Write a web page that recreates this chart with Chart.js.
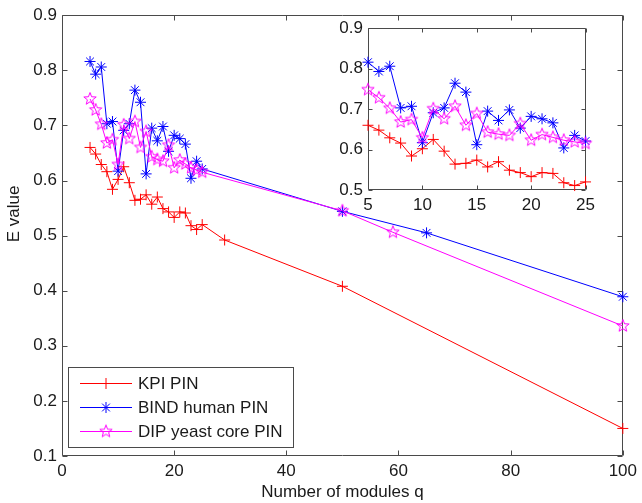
<!DOCTYPE html>
<html><head><meta charset="utf-8">
<script src="https://cdn.jsdelivr.net/npm/chart.js@4/dist/chart.umd.min.js"></script>
<style>
html,body{margin:0;padding:0;background:#fff;}
#wrap{position:relative;width:642px;height:503px;overflow:hidden;background:#fff;}
#main{position:absolute;left:0;top:0;}
#inset{position:absolute;left:325px;top:13px;}
</style></head><body>
<div id="wrap"><canvas id="main" width="642" height="503"></canvas><canvas id="inset" width="275" height="205"></canvas></div>
<script>
// ---------- data ----------
const seriesLabels = ['KPI PIN', 'BIND human PIN', 'DIP yeast core PIN'];
const qKPI  = [5,6,7,8,9,10,11,12,13,14,15,16,17,18,19,20,21,22,23,24,25,29,50,100];
const eKPI  = [0.660,0.648,0.629,0.616,0.584,0.602,0.625,0.596,0.564,0.566,0.574,0.557,0.570,0.549,0.543,0.533,0.543,0.541,0.518,0.511,0.520,0.492,0.408,0.150];
const qBIND = [5,6,7,8,9,10,11,12,13,14,15,16,17,18,19,20,21,22,23,24,25,50,65,100];
const eBIND = [0.816,0.793,0.806,0.703,0.707,0.617,0.691,0.703,0.764,0.742,0.612,0.695,0.672,0.698,0.653,0.682,0.676,0.666,0.604,0.635,0.621,0.544,0.505,0.389];
const qDIP  = [5,6,7,8,9,10,11,12,13,14,15,16,17,18,19,20,21,22,23,24,25,50,59,100];
const eDIP  = [0.748,0.728,0.702,0.668,0.674,0.629,0.701,0.676,0.707,0.660,0.689,0.643,0.638,0.635,0.664,0.623,0.637,0.630,0.623,0.619,0.615,0.545,0.506,0.336];
const xTicksMain  = [0,20,40,60,80,100];
const yTicksMain  = [0.1,0.2,0.3,0.4,0.5,0.6,0.7,0.8,0.9];
const xTicksInset = [5,10,15,20,25];
const yTicksInset = [0.5,0.6,0.7,0.8,0.9];
const xTitle = 'Number of modules q';
const yTitle = 'E value';

// ---------- styles ----------
const FONT = "'Liberation Sans', Arial, Helvetica, sans-serif";
const COLORS = ['#ff0000', '#0000ff', '#ff00ff'];
const AXIS = '#4a4a4a';
Chart.defaults.font.family = FONT;
Chart.defaults.font.size = 17;
Chart.defaults.color = '#1a1a1a';
Chart.defaults.animation = false;

function pentagram(color, r) {
  const c = document.createElement('canvas');
  const s = Math.ceil(r * 2 + 3);
  c.width = s; c.height = s;
  const g = c.getContext('2d');
  g.strokeStyle = color; g.lineWidth = 1;
  g.beginPath();
  const ri = r * 0.42;
  for (let i = 0; i < 10; i++) {
    const rr = i % 2 === 0 ? r : ri;
    const a = -Math.PI / 2 + i * Math.PI / 5;
    const px = s / 2 + rr * Math.cos(a), py = s / 2 + rr * Math.sin(a);
    if (i === 0) g.moveTo(px, py); else g.lineTo(px, py);
  }
  g.closePath(); g.stroke();
  return c;
}
const STYLES = ['cross', 'star', pentagram(COLORS[2], 6.5)];
const RADII = [5.5, 5.5, 6.5];

function makeDatasets(limit) {
  const qs = [qKPI, qBIND, qDIP], es = [eKPI, eBIND, eDIP];
  return qs.map((q, i) => {
    const pts = [];
    q.forEach((qv, k) => { if (qv <= limit) pts.push({x: qv, y: es[i][k]}); });
    return {
      label: seriesLabels[i], data: pts, showLine: true,
      borderColor: COLORS[i], backgroundColor: COLORS[i],
      pointBorderColor: COLORS[i], pointBackgroundColor: COLORS[i],
      borderWidth: 1, pointBorderWidth: 1,
      pointStyle: STYLES[i], pointRadius: RADII[i], pointHoverRadius: RADII[i],
      order: 2 - i, clip: false
    };
  });
}

function frameTicks(tickLen) {
  return {
    id: 'frameTicks',
    beforeDraw(chart, args, opts) {
      const {ctx, chartArea: a} = chart;
      ctx.save(); ctx.fillStyle = '#fff';
      ctx.fillRect(a.left, a.top, a.right - a.left, a.bottom - a.top);
      ctx.restore();
    },
    beforeDatasetsDraw(chart) {
      const {ctx, chartArea: a, scales: {x, y}} = chart;
      ctx.save();
      ctx.strokeStyle = AXIS; ctx.lineWidth = 1;
      const L = Math.round(a.left) + 0.5, R = Math.round(a.right) - 0.5;
      const T = Math.round(a.top) + 0.5, B = Math.round(a.bottom) - 0.5;
      ctx.beginPath();
      ctx.rect(L, T, R - L, B - T);
      x.ticks.forEach(t => {
        const p = Math.round(x.getPixelForValue(t.value)) + 0.5;
        ctx.moveTo(p, B); ctx.lineTo(p, B - tickLen);
        ctx.moveTo(p, T); ctx.lineTo(p, T + tickLen);
      });
      y.ticks.forEach(t => {
        const p = Math.round(y.getPixelForValue(t.value)) + 0.5;
        ctx.moveTo(L, p); ctx.lineTo(L + tickLen, p);
        ctx.moveTo(R, p); ctx.lineTo(R - tickLen, p);
      });
      ctx.stroke();
      ctx.restore();
    }
  };
}

function scaleCfg(min, max, ticksArr, fmt, fit) {
  return {
    type: 'linear', min, max,
    afterBuildTicks(s) { s.ticks = ticksArr.map(v => ({value: v})); },
    ticks: {autoSkip: false, maxRotation: 0, padding: 5, color: '#1a1a1a', callback: fmt},
    grid: {display: false, drawTicks: false}, border: {display: false},
    afterFit: fit
  };
}

const mainExtras = {
  id: 'mainExtras',
  afterDatasetsDraw(chart) {
    const {ctx, chartArea: a} = chart;
    ctx.save();
    ctx.fillStyle = '#1a1a1a';
    ctx.font = '17px ' + FONT;
    ctx.textAlign = 'center'; ctx.textBaseline = 'middle';
    ctx.fillText(xTitle, (a.left + a.right) / 2, 492);
    ctx.translate(14, 214); ctx.rotate(-Math.PI / 2);
    ctx.fillText(yTitle, 0, 0);
    ctx.restore();
    // legend
    ctx.save();
    const bx = 68.5, by = 367.5, bw = 225, bh = 80;
    ctx.fillStyle = '#fff'; ctx.fillRect(bx, by, bw, bh);
    ctx.strokeStyle = AXIS; ctx.lineWidth = 1; ctx.strokeRect(bx, by, bw, bh);
    ctx.font = '17px ' + FONT; ctx.textBaseline = 'middle'; ctx.textAlign = 'left';
    chart.data.datasets.forEach((d, i) => {
      const yy = 383 + i * 24 + 0.5;
      ctx.strokeStyle = d.borderColor; ctx.fillStyle = d.borderColor; ctx.lineWidth = 1;
      ctx.beginPath(); ctx.moveTo(80, yy); ctx.lineTo(132, yy); ctx.stroke();
      Chart.helpers.drawPoint(ctx, {pointStyle: d.pointStyle, radius: d.pointRadius, rotation: 0, borderWidth: 1}, 106, yy);
      ctx.fillStyle = '#1a1a1a';
      ctx.fillText(d.label, 138, yy + 1);
    });
    ctx.restore();
  }
};

new Chart(document.getElementById('main'), {
  type: 'scatter',
  data: {datasets: makeDatasets(1000)},
  options: {
    responsive: false, events: [],
    layout: {padding: {top: 15, right: 15, left: 0, bottom: 0}},
    plugins: {legend: {display: false}, tooltip: {enabled: false}},
    scales: {
      x: scaleCfg(0, 100, xTicksMain, v => String(v), s => { s.height = 47; }),
      y: scaleCfg(0.1, 0.9, yTicksMain, v => v.toFixed(1), s => { s.width = 62; })
    }
  },
  plugins: [frameTicks(5), mainExtras]
});

new Chart(document.getElementById('inset'), {
  type: 'scatter',
  data: {datasets: makeDatasets(25)},
  options: {
    responsive: false, events: [],
    layout: {padding: {top: 15, right: 13, left: 0, bottom: 0}},
    plugins: {legend: {display: false}, tooltip: {enabled: false}},
    scales: {
      x: scaleCfg(5, 25, xTicksInset, v => String(v), s => { s.height = 28; }),
      y: scaleCfg(0.5, 0.9, yTicksInset, v => v.toFixed(1), s => { s.width = 43; })
    }
  },
  plugins: [frameTicks(4)]
});
</script>
</body></html>
